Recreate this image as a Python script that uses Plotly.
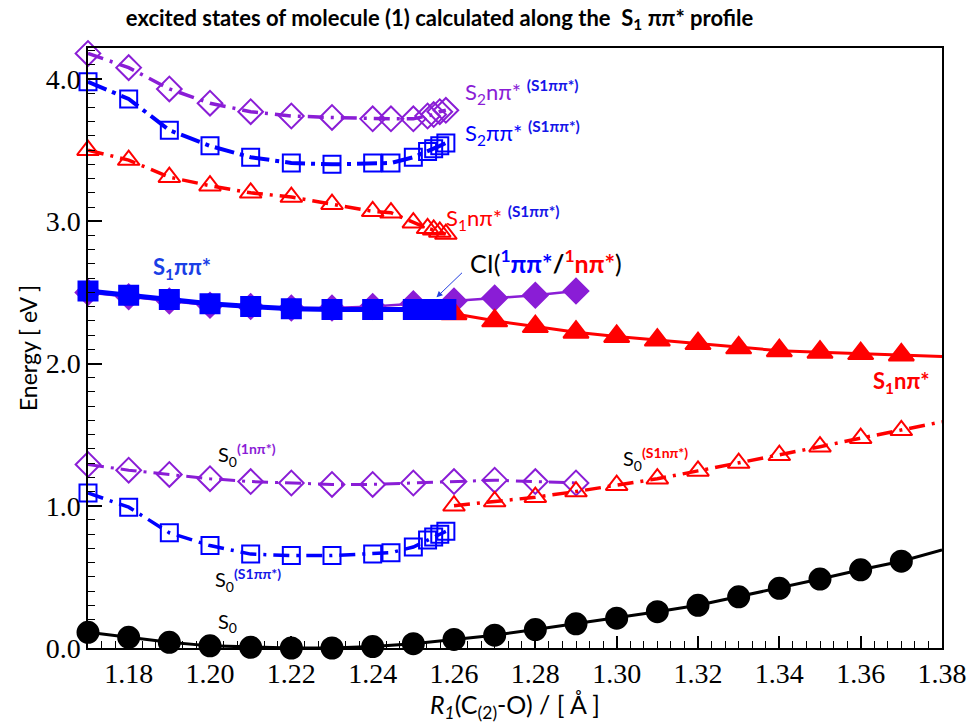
import plotly.graph_objects as go

# ---------------- data (energies in eV along R1(C(2)-O) in Å) ----------------
# ground state S0
r_s0 = [1.17, 1.18, 1.19, 1.20, 1.21, 1.22, 1.23, 1.24, 1.25, 1.26, 1.27,
        1.28, 1.29, 1.30, 1.31, 1.32, 1.33, 1.34, 1.35, 1.36, 1.37]
e_s0 = [0.11, 0.075, 0.04, 0.015, 0.005, 0.0, 0.0, 0.01, 0.03, 0.06, 0.09,
        0.13, 0.17, 0.21, 0.255, 0.30, 0.36, 0.42, 0.485, 0.55, 0.61]
r_s0_end, e_s0_end = 1.38, 0.69

# S1 pi-pi* (optimised profile) and the 1n-pi* state below the CI
r_s1pp = [1.17, 1.18, 1.19, 1.20, 1.21, 1.22, 1.23, 1.24, 1.25,
          1.2535, 1.255, 1.2565, 1.258]
e_s1pp = [2.51, 2.48, 2.45, 2.42, 2.40, 2.385, 2.38, 2.38, 2.38,
          2.38, 2.38, 2.38, 2.38]

r_np_upper = [1.17, 1.18, 1.19, 1.20, 1.21, 1.22, 1.23, 1.24, 1.25,
              1.26, 1.27, 1.28, 1.29]
e_np_upper = [2.50, 2.47, 2.44, 2.41, 2.40, 2.39, 2.39, 2.40, 2.42,
              2.44, 2.46, 2.48, 2.51]

# S1 n-pi* beyond the CI
r_s1np = [1.26, 1.27, 1.28, 1.29, 1.30, 1.31, 1.32, 1.33, 1.34, 1.35, 1.36, 1.37]
e_s1np = [2.35, 2.30, 2.26, 2.22, 2.19, 2.165, 2.14, 2.11, 2.09, 2.08, 2.07, 2.06]
r_s1np_end, e_s1np_end = 1.38, 2.05

# states computed at the S1 pi-pi* geometries
r_pp_geo = [1.17, 1.18, 1.19, 1.20, 1.21, 1.22, 1.23, 1.24, 1.2445, 1.25,
            1.2535, 1.255, 1.2565, 1.258]
e_s2np_pp = [4.18, 4.08, 3.93, 3.83, 3.77, 3.74, 3.73, 3.72, 3.72, 3.72,
             3.74, 3.75, 3.77, 3.78]
e_s2pp_pp = [3.98, 3.86, 3.64, 3.53, 3.45, 3.41, 3.40, 3.41, 3.41, 3.45,
             3.49, 3.51, 3.53, 3.55]
e_s1np_pp = [3.50, 3.43, 3.31, 3.25, 3.20, 3.17, 3.12, 3.07, 3.06, 2.99,
             2.95, 2.94, 2.925, 2.91]
e_s0_pp = [1.09, 0.99, 0.81, 0.72, 0.66, 0.65, 0.65, 0.66, 0.67, 0.71,
           0.76, 0.78, 0.80, 0.82]

# S0 at the 1n-pi* geometries (before the CI)
r_np_geo = [1.17, 1.18, 1.19, 1.20, 1.21, 1.22, 1.23, 1.24, 1.25,
            1.26, 1.27, 1.28, 1.29]
e_s0_np = [1.29, 1.25, 1.22, 1.19, 1.17, 1.16, 1.15, 1.15, 1.16,
           1.17, 1.18, 1.17, 1.16]

# S0 at the S1 n-pi* geometries (beyond the CI)
r_s1np_geo = [1.26, 1.27, 1.28, 1.29, 1.30, 1.31, 1.32, 1.33, 1.34, 1.35, 1.36, 1.37]
e_s0_s1np = [1.00, 1.03, 1.06, 1.10, 1.145, 1.19, 1.245, 1.30, 1.355, 1.415, 1.475, 1.53]
r_s0_s1np_end, e_s0_s1np_end = 1.38, 1.59

x_ticks = [1.18, 1.20, 1.22, 1.24, 1.26, 1.28, 1.30, 1.32, 1.34, 1.36, 1.38]
x_ticktext = ["1.18", "1.20", "1.22", "1.24", "1.26", "1.28", "1.30",
              "1.32", "1.34", "1.36", "1.38"]
y_ticks = [0, 1, 2, 3, 4]
y_ticktext = ["0.0", "1.0", "2.0", "3.0", "4.0"]

# ---------------- styling ----------------
PURPLE = "#8A1DD6"
BLUE = "#0000FF"
RED = "#FF0000"
BLACK = "#000000"
TXT_FONT = "Lato"
TICK_FONT = "Liberation Serif, Times New Roman, DejaVu Serif, serif"

fig = go.Figure()


def add_series(x, y, color, symbol, size, width, dash="solid", end=None,
               mline=2):
    xs, ys = list(x), list(y)
    sizes = [size] * len(xs)
    if end is not None:
        # the fitted curve runs on to the right-hand frame without a marker
        xs.append(end[0])
        ys.append(end[1])
        sizes.append(0)
    fig.add_trace(go.Scatter(
        x=xs, y=ys, mode="lines+markers",
        line=dict(color=color, width=width, dash=dash),
        marker=dict(symbol=symbol, size=sizes, color=color, opacity=1,
                    line=dict(color=color, width=mline)),
        cliponaxis=False, showlegend=False, hoverinfo="x+y"))


DASHDOT = "16px,7px,3px,7px"

# lower group: S0 at the various geometries
add_series(r_np_geo, e_s0_np, PURPLE, "diamond-open", 19, 3, DASHDOT)
add_series(r_pp_geo, e_s0_pp, BLUE, "square-open", 17, 3.5, DASHDOT)
add_series(r_s1np_geo, e_s0_s1np, RED, "triangle-up-open", 19, 3.5, DASHDOT,
           end=(r_s0_s1np_end, e_s0_s1np_end))

# upper group: S2 / S1 n-pi* at the S1 pi-pi* geometries
add_series(r_pp_geo, e_s2np_pp, PURPLE, "diamond-open", 19, 3.5, DASHDOT)
add_series(r_pp_geo, e_s2pp_pp, BLUE, "square-open", 17, 4, "20px,6px,4px,6px")
add_series(r_pp_geo, e_s1np_pp, RED, "triangle-up-open", 19, 3.5, DASHDOT)

# S0 curve
add_series(r_s0, e_s0, BLACK, "circle", 21, 3, end=(r_s0_end, e_s0_end))

# excited-state profile: 1n-pi*, S1 n-pi*, S1 pi-pi*
add_series(r_np_upper, e_np_upper, PURPLE, "diamond", 19, 2.5)
add_series(r_s1np, e_s1np, RED, "triangle-up", 22, 3, end=(r_s1np_end, e_s1np_end))
add_series(r_s1pp, e_s1pp, BLUE, "square", 19, 5)

# ---------------- labels ----------------
SUPB = "#1515E8"


def ann(x, y, text, size=20, color=BLACK, xanchor="left"):
    fig.add_annotation(x=x, y=y, text=text, showarrow=False, xanchor=xanchor,
                       yanchor="middle", font=dict(family=TXT_FONT, size=size,
                                                   color=color))


sup_pp = f"<sup><b><span style='color:{SUPB}'>(S1ππ*)</span></b></sup>"
ann(1.2623, 3.91, f"S<sub>2</sub>nπ* {sup_pp}", size=22, color=PURPLE)
ann(1.2623, 3.62, f"S<sub>2</sub>ππ* {sup_pp}", size=22, color=BLUE)
ann(1.2575, 3.02, f"S<sub>1</sub>nπ* {sup_pp}", size=22, color=RED)
ann(1.1855, 2.67, "<b>S<sub>1</sub>ππ*</b>", size=22, color="#1A3FE6")
ann(1.3775, 1.87, "<b>S<sub>1</sub>nπ*</b>", size=22, color=RED, xanchor="right")
ann(1.2635, 2.72,
    f"CI(<b><span style='color:{BLUE}'><sup>1</sup>ππ*</span>/"
    f"<span style='color:{RED}'><sup>1</sup>nπ*</span></b>)", size=25)
ann(1.2015, 1.36, f"S<sub>0</sub><sup><b><span style='color:{PURPLE}'>(1nπ*)</span></b></sup>",
    size=20)
ann(1.3010, 1.33, f"S<sub>0</sub><sup><b><span style='color:{RED}'>(S1nπ*)</span></b></sup>",
    size=20)
ann(1.2008, 0.48, f"S<sub>0</sub><sup><b><span style='color:{SUPB}'>(S1ππ*)</span></b></sup>",
    size=20)
ann(1.2015, 0.18, "S<sub>0</sub>", size=20)

# arrow pointing at the conical intersection
fig.add_annotation(x=1.2557, y=2.465, ax=27, ay=-26, text="", showarrow=True,
                   arrowhead=2, arrowsize=1.2, arrowwidth=1, arrowcolor="#2340E0")

# ---------------- axes and layout ----------------
fig.update_xaxes(
    range=[1.17, 1.38], tickvals=x_ticks, ticktext=x_ticktext,
    ticks="inside", ticklen=12, tickwidth=1.5, tickcolor=BLACK,
    showline=True, linecolor=BLACK, linewidth=1.5, mirror=True,
    showgrid=False, zeroline=False,
    tickfont=dict(family=TICK_FONT, size=28, color=BLACK),
    minor=dict(ticks="inside", ticklen=7, tickwidth=1.2, tickcolor=BLACK,
               tick0=1.18, dtick=0.02 / 6, showgrid=False),
    title=dict(text="<i>R<sub>1</sub></i>(C<sub>(2)</sub>-O) / [ Å ]",
               font=dict(family=TXT_FONT, size=25, color=BLACK), standoff=4),
)
fig.update_yaxes(
    range=[0, 4.218], tickvals=y_ticks, ticktext=y_ticktext,
    ticks="inside", ticklen=14, tickwidth=1.5, tickcolor=BLACK,
    showline=True, linecolor=BLACK, linewidth=1.5, mirror=True,
    showgrid=False, zeroline=False,
    tickfont=dict(family=TICK_FONT, size=28, color=BLACK),
    minor=dict(ticks="inside", ticklen=7, tickwidth=1.2, tickcolor=BLACK,
               dtick=0.1, showgrid=False),
    title=dict(text="Energy [ eV ]",
               font=dict(family=TXT_FONT, size=23, color=BLACK), standoff=2),
)
fig.update_layout(
    width=979, height=723,
    margin=dict(l=88, r=33, t=48, b=75),
    paper_bgcolor="white", plot_bgcolor="white",
    title=dict(text="<b>excited states of molecule (1) calculated along the  "
                    "S<sub>1</sub> ππ* profile</b>",
               x=0.449, xanchor="center", y=0.975, yanchor="middle",
               font=dict(family=TXT_FONT, size=22, color=BLACK)),
    showlegend=False,
)

fig.write_html("out.html")
